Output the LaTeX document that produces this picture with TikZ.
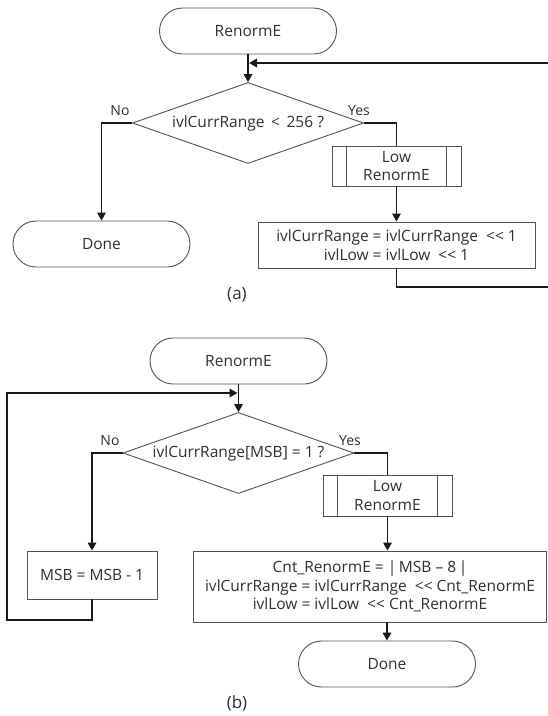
\documentclass[tikz,border=0pt]{standalone}
\usepackage{fontspec}
\setmainfont{Open Sans}
\usetikzlibrary{shapes.geometric,arrows.meta}
\begin{document}
\begin{tikzpicture}[x=1pt,y=-1pt,
  every node/.style={font=\fontsize{15.5}{18.5}\selectfont, text=black!82},
  shapeline/.style={draw=black!68, line width=0.9pt},
  term/.style={shapeline, rectangle, rounded corners=23pt, minimum width=177pt, minimum height=46pt, inner sep=0pt},
  proc/.style={shapeline, rectangle, inner sep=0pt, align=center},
  dec/.style={shapeline, diamond, aspect=2.85, minimum width=231pt, minimum height=81pt, inner sep=0pt},
  conn/.style={line width=1.7pt, draw=black!90},
  arr/.style={conn, -{Triangle[length=8pt,width=8.5pt]}},
  lab/.style={font=\fontsize{14}{16}\selectfont},
  figcap/.style={font=\fontsize{17}{20}\selectfont}
]
\useasboundingbox (0,0) rectangle (548,716);

% ---------- (a) ----------
\node[term] (ra) at (248,31) {RenormE};
\node[dec] (da) at (248,123) {ivlCurrRange \,<\, 256 ?};
\node[proc, minimum width=129pt, minimum height=40pt] (lra) at (396.5,166) {Low\\RenormE};
\draw[shapeline] ([xshift=15pt]lra.north west) -- ([xshift=15pt]lra.south west);
\draw[shapeline] ([xshift=-15pt]lra.north east) -- ([xshift=-15pt]lra.south east);
\node[proc, minimum width=277pt, minimum height=46pt] (asga) at (396.5,245)
  {ivlCurrRange = ivlCurrRange\ \ <\kern0pt< 1\\ivlLow = ivlLow\ \ <\kern0pt< 1};
\node[term] (donea) at (101.5,244) {Done};
\node[lab, anchor=base east] (noa) at (133,115) {No};
\node[lab, anchor=base] (yesa) at (359,115) {Yes};
\node[figcap] (capa) at (237,295) {(a)};

\coordinate (ja) at (248,63);
\coordinate (fa1) at (548,63);
\coordinate (fa2) at (548,287);
\draw[arr] (ra.south) -- (da.north);
\draw[arr, shorten >=1pt] (fa1) -- (ja);
\draw[arr] (da.west) -| (donea.north);
\draw[conn] (da.east) -| (lra.north);
\draw[arr] (lra.south) -- (lra.south |- asga.north);
\draw[conn] (asga.south) |- (fa2);

% ---------- (b) ----------
\node[term] (rb) at (238.5,361) {RenormE};
\node[dec] (db) at (238.5,453) {ivlCurrRange[MSB] = 1 ?};
\node[proc, minimum width=129pt, minimum height=41pt] (lrb) at (387.5,495.5) {Low\\RenormE};
\draw[shapeline] ([xshift=15pt]lrb.north west) -- ([xshift=15pt]lrb.south west);
\draw[shapeline] ([xshift=-15pt]lrb.north east) -- ([xshift=-15pt]lrb.south east);
\node[proc, minimum width=353pt, minimum height=71pt] (cnt) at (370,586.5)
  {Cnt\_RenormE = |\,MSB – 8\,|\\ivlCurrRange = ivlCurrRange\ \ <\kern0pt< Cnt\_RenormE\\ivlLow = ivlLow\ \ <\kern0pt< Cnt\_RenormE};
\node[proc, minimum width=130pt, minimum height=48pt] (msb) at (92,575) {MSB = MSB - 1};
\node[term] (doneb) at (387,664) {Done};
\node[lab, anchor=base east] (nob) at (123,445) {No};
\node[lab, anchor=base] (yesb) at (350,445) {Yes};
\node[figcap] (capb) at (237,703) {(b)};

\coordinate (jb) at (238.5,393);
\coordinate (lb) at (7,620);
\draw[arr] (rb.south) -- (db.north);
\draw[arr] (db.west) -| (msb.north);
\draw[conn] (db.east) -| (lrb.north);
\draw[arr] (lrb.south) -- (lrb.south |- cnt.north);
\draw[arr] (doneb.north |- cnt.south) -- (doneb.north);
\draw[arr, shorten >=1pt] (msb.south) |- (lb) |- (jb);
\end{tikzpicture}
\end{document}
